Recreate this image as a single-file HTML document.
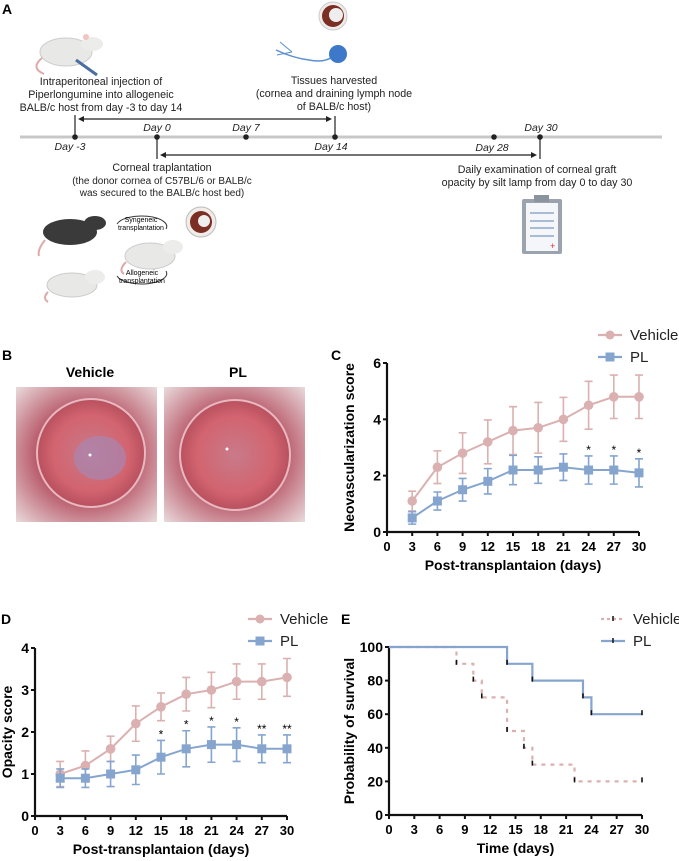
<!DOCTYPE html>
<html><head><meta charset="utf-8"><style>
body{margin:0;background:#fff}
svg{display:block;font-family:"Liberation Sans",Arial,sans-serif}
</style></head><body>
<svg id="fig" width="679" height="861" viewBox="0 0 679 861">
<defs>
<radialGradient id="eyeG" cx="50%" cy="50%" r="50%"><stop offset="0" stop-color="#c97a8a"/><stop offset="0.7" stop-color="#d2646f"/><stop offset="1" stop-color="#b8505e"/></radialGradient>
<radialGradient id="eyeBg" cx="50%" cy="50%" r="70%"><stop offset="0.5" stop-color="#b85868"/><stop offset="1" stop-color="#e8d8da"/></radialGradient>
</defs>
<g>
<text x="2" y="14" font-size="14" font-weight="bold">A</text>
<line x1="20" y1="137" x2="662" y2="137" stroke="#c8c8c8" stroke-width="3"/>
<g fill="#222">
<circle cx="75" cy="137" r="2.8"/><circle cx="157" cy="137" r="2.8"/><circle cx="246" cy="137" r="2.8"/><circle cx="335" cy="137" r="2.8"/><circle cx="494" cy="137" r="2.8"/><circle cx="540" cy="137" r="2.8"/></g>
<g stroke="#222" stroke-width="1.2" fill="none">
<line x1="75" y1="115" x2="75" y2="137"/><line x1="335" y1="116" x2="335" y2="137"/>
<line x1="157" y1="137" x2="157" y2="159"/><line x1="540" y1="137" x2="540" y2="159"/>
<line x1="81" y1="119" x2="330" y2="119"/>
<line x1="162" y1="155" x2="535" y2="155"/>
</g>
<g fill="#222"><path d="M78,119 l6,-3 v6z"/><path d="M332,119 l-6,-3 v6z"/><path d="M160,155 l6,-3 v6z"/><path d="M537,155 l-6,-3 v6z"/></g>
<g font-size="10.5" font-style="italic" fill="#222" text-anchor="middle">
<text x="70" y="150">Day -3</text><text x="157" y="131">Day 0</text><text x="246" y="131">Day 7</text><text x="331" y="150">Day 14</text><text x="492" y="151">Day 28</text><text x="541" y="131">Day 30</text></g>
<g font-size="10.7" fill="#222" text-anchor="middle">
<text x="101" y="85">Intraperitoneal injection of</text>
<text x="101" y="98">Piperlongumine into allogeneic</text>
<text x="101" y="111">BALB/c host from day -3 to day 14</text>
<text x="334" y="84">Tissues harvested</text>
<text x="334" y="97">(cornea and draining lymph node</text>
<text x="334" y="110">of BALB/c host)</text>
<text x="162" y="171">Corneal traplantation</text>
<text x="162" y="184" font-size="10">(the donor cornea of C57BL/6 or BALB/c</text>
<text x="162" y="196" font-size="10">was secured to the BALB/c host bed)</text>
<text x="537" y="173">Daily examination of corneal graft</text>
<text x="537" y="186">opacity by silt lamp from day 0 to day 30</text>
</g>
<g>
<ellipse cx="66" cy="52" rx="26" ry="14" fill="#e8e8e6" stroke="#ccc"/><ellipse cx="92" cy="44" rx="11" ry="7" fill="#ececea"/><circle cx="86" cy="37" r="3" fill="#f2c4c4"/>
<path d="M42,58 q-12,10 2,16" stroke="#e0a8a8" stroke-width="2" fill="none"/>
<line x1="76" y1="60" x2="97" y2="75" stroke="#4a6fa0" stroke-width="3"/></g>
<g><circle cx="333" cy="16" r="14" fill="#f0ece8" stroke="#ccc"/><circle cx="333" cy="16" r="11" fill="#7a2e24"/><circle cx="336" cy="15" r="7" fill="#eee"/></g>
<g><path d="M276,50 q17,8 33,10 q15,3 23,-3" stroke="#5b8fd0" stroke-width="1.5" fill="none"/><path d="M280,42 l12,10 M277,55 l15,-3" stroke="#5b8fd0" fill="none"/><ellipse cx="338" cy="54" rx="9" ry="9" fill="#3e78c8"/></g>
<g><rect x="522" y="199" width="40" height="55" fill="#9aa3ae" rx="2"/><rect x="526" y="203" width="32" height="48" fill="#f4f6fa"/><rect x="534" y="195" width="15" height="7" fill="#8a939e"/>
<g stroke="#a8bcd8" stroke-width="2"><line x1="530" y1="213" x2="554" y2="213"/><line x1="530" y1="221" x2="554" y2="221"/><line x1="530" y1="228" x2="554" y2="228"/><line x1="530" y1="236" x2="554" y2="236"/></g><text x="550" y="249" fill="#d33" font-size="9">+</text></g>
<g>
<ellipse cx="70" cy="232" rx="27" ry="13" fill="#3a3a3a"/><ellipse cx="95" cy="223" rx="11" ry="7" fill="#3a3a3a"/>
<ellipse cx="150" cy="256" rx="25" ry="13" fill="#e8e8e6" stroke="#ccc"/><ellipse cx="173" cy="247" rx="10" ry="7" fill="#ececea"/>
<ellipse cx="72" cy="285" rx="25" ry="12" fill="#e8e8e6" stroke="#ccc"/><ellipse cx="95" cy="277" rx="10" ry="7" fill="#ececea"/>
<path d="M45,240 q-8,10 -6,16 M126,262 q-8,8 -2,12 M48,292 q-6,6 0,10" stroke="#e0a8a8" stroke-width="2" fill="none"/>
<circle cx="201" cy="222" r="15" fill="#f0ece8" stroke="#bbb"/><circle cx="201" cy="222" r="11" fill="#7a2e24"/><circle cx="204" cy="221" r="6" fill="#eee"/>
<path d="M117,224 a24,10 0 1 1 49,5" stroke="#333" fill="none"/><path d="M117,276 a24,10 0 1 0 49,-5" stroke="#333" fill="none"/>
<text x="141" y="222" font-size="7" text-anchor="middle">Syngeneic</text><text x="141" y="230" font-size="7" text-anchor="middle">transplantation</text>
<text x="142" y="275" font-size="7" text-anchor="middle">Allogeneic</text><text x="142" y="283" font-size="7" text-anchor="middle">transplantation</text>
</g>
</g>
<g>
<text x="2" y="360" font-size="14" font-weight="bold">B</text>
<text x="90" y="377" font-size="14" font-weight="bold" text-anchor="middle">Vehicle</text>
<text x="238" y="377" font-size="14" font-weight="bold" text-anchor="middle">PL</text>
<rect x="16" y="387" width="141" height="135" fill="url(#eyeBg)"/>
<circle cx="91" cy="453" r="54" fill="url(#eyeG)" stroke="#e8b8c0" stroke-width="2"/><ellipse cx="100" cy="458" rx="26" ry="22" fill="#a886b0" opacity="0.7"/><circle cx="90" cy="455" r="1.5" fill="#fff"/>
<rect x="164" y="387" width="141" height="135" fill="url(#eyeBg)"/>
<circle cx="235" cy="455" r="55" fill="url(#eyeG)" stroke="#e8b8c0" stroke-width="2"/><circle cx="227" cy="449" r="1.5" fill="#fff"/>
</g>
<g id="pc"></g>
<g id="pd"></g>
<g id="pe"></g>
</svg>
<script>
const NS="http://www.w3.org/2000/svg";
const days=[3,6,9,12,15,18,21,24,27,30];
const xTicks=[0,3,6,9,12,15,18,21,24,27,30];
const cVeh=[1.1,2.3,2.8,3.2,3.6,3.7,4.0,4.5,4.8,4.8];
const cVehErr=[0.35,0.58,0.72,0.78,0.85,0.9,0.78,0.85,0.77,0.77];
const cPL=[0.5,1.1,1.5,1.8,2.2,2.2,2.3,2.2,2.2,2.1];
const cPLErr=[0.22,0.32,0.4,0.45,0.52,0.47,0.47,0.5,0.5,0.5];
const cStars=["","","","","","","","*","*","*"];
const cYTicks=[0,2,4,6];
const dVeh=[1.0,1.2,1.6,2.2,2.6,2.9,3.0,3.2,3.2,3.3];
const dVehErr=[0.3,0.35,0.3,0.42,0.33,0.4,0.42,0.42,0.42,0.45];
const dPL=[0.9,0.9,1.0,1.1,1.4,1.6,1.7,1.7,1.6,1.6];
const dPLErr=[0.22,0.22,0.3,0.35,0.4,0.43,0.42,0.4,0.33,0.33];
const dStars=["","","","","*","*","*","*","**","**"];
const dYTicks=[0,1,2,3,4];
const ePLTimes=[0,14,17,23,24,30];
const ePLVals=[100,90,80,70,60,60];
const eVehTimes=[0,8,10,11,14,16,17,22,30];
const eVehVals=[100,90,80,70,50,40,30,20,20];
const eYTicks=[0,20,40,60,80,100];
const VC="#dbb0b0", PC="#85a5cf";
function el(p,t,a){const e=document.createElementNS(NS,t);for(const k in a)e.setAttribute(k,a[k]);p.appendChild(e);return e;}
function axes(g,x0,x1,y0,y1,ymax,yt,xt,ytitle,xtitle,lbl,lx,ly,tx){
 const X=v=>x0+(x1-x0)*v/30, Y=v=>y0-(y0-y1)*v/ymax;
 const a=el(g,"path",{d:`M${x0},${y1} V${y0} H${x1}`,stroke:"#111","stroke-width":2.2,fill:"none"});
 
 
 yt.forEach(v=>{el(g,"line",{x1:x0-4,x2:x0,y1:Y(v),y2:Y(v),stroke:"#111","stroke-width":2});
  const t=el(g,"text",{x:x0-6,y:Y(v)+5,"font-size":14,"font-weight":"bold","text-anchor":"end"});t.textContent=v;
  
  });
 xt.forEach(v=>{el(g,"line",{x1:X(v),x2:X(v),y1:y0,y2:y0+4,stroke:"#111","stroke-width":2});
  const t=el(g,"text",{x:X(v),y:y0+19,"font-size":13,"font-weight":"bold","text-anchor":"middle"});t.textContent=v;
  
  });
 const yt2=el(g,"text",{x:0,y:0,"font-size":14,"font-weight":"bold","text-anchor":"middle",transform:`translate(${tx},${(y0+y1)/2}) rotate(-90)`});yt2.textContent=ytitle;
 
 
 const xt2=el(g,"text",{x:(x0+x1)/2,y:y0+38,"font-size":14,"font-weight":"bold","text-anchor":"middle"});xt2.textContent=xtitle;
 
 
 const l=el(g,"text",{x:lx,y:ly,"font-size":14,"font-weight":"bold"});l.textContent=lbl;
 
 
 return [X,Y];
}
function legend(g,x,y,dashed,marker){
 [["Vehicle",VC,0],["PL",PC,1]].forEach(([n,c,i])=>{
  const yy=y+i*22;
  const ln=el(g,"line",{x1:x-12,x2:x+12,y1:yy,y2:yy,stroke:c,"stroke-width":2.2,"stroke-dasharray":(dashed&&i==0)?"3,3":"none"});
  
  
  if(marker){ if(i==0) el(g,"circle",{cx:x,cy:yy,r:4.5,fill:c}); else el(g,"rect",{x:x-4.5,y:yy-4.5,width:9,height:9,fill:c}); }
  else el(g,"line",{x1:x,x2:x,y1:yy-3,y2:yy+2,stroke:"#111","stroke-width":1.5});
  const t=el(g,"text",{x:x+20,y:yy+5,"font-size":15,fill:"#222"});t.textContent=n;
  
  });
}
function series(g,X,Y,vals,errs,c,sq,name){
 el(g,"polyline",{points:days.map((d,i)=>X(d)+","+Y(vals[i])).join(" "),fill:"none",stroke:c,"stroke-width":2});
 days.forEach((d,i)=>{
  const e=el(g,"path",{d:`M${X(d)},${Y(vals[i]-errs[i])} V${Y(vals[i]+errs[i])} M${X(d)-4},${Y(vals[i]+errs[i])} h8 M${X(d)-4},${Y(vals[i]-errs[i])} h8`,stroke:c,"stroke-width":1.6,fill:"none"});
  
  
  const m=sq?el(g,"rect",{x:X(d)-4.5,y:Y(vals[i])-4.5,width:9,height:9,fill:c}):el(g,"circle",{cx:X(d),cy:Y(vals[i]),r:4.8,fill:c});
  
  });
}
function stars(g,X,Y,vals,errs,st){
 days.forEach((d,i)=>{if(!st[i])return;const t=el(g,"text",{x:X(d),y:Y(vals[i]+errs[i])-2,"font-size":12,"text-anchor":"middle"});t.textContent=st[i];
  
  });
}
(function(){const g=document.getElementById("pc");
 const [X,Y]=axes(g,387,639,532,363,6,cYTicks,xTicks,"Neovascularization score","Post-transplantaion (days)","C",331,360,354);
 legend(g,610,335,false,true);
 series(g,X,Y,cVeh,cVehErr,VC,false,"vehicle");
 series(g,X,Y,cPL,cPLErr,PC,true,"pl");
 stars(g,X,Y,cPL,cPLErr,cStars);})();
(function(){const g=document.getElementById("pd");
 const [X,Y]=axes(g,35,287,816,648,4,dYTicks,xTicks,"Opacity score","Post-transplantaion (days)","D",1,624,12);
 legend(g,260,619,false,true);
 series(g,X,Y,dVeh,dVehErr,VC,false,"vehicle");
 series(g,X,Y,dPL,dPLErr,PC,true,"pl");
 stars(g,X,Y,dPL,dPLErr,dStars);})();
(function(){const g=document.getElementById("pe");
 const [X,Y]=axes(g,389,642,815,647,100,eYTicks,xTicks,"Probability of survival","Time (days)","E",341,624,354);
 legend(g,613,619,true,false);
 function km(times,vals,c,dash,name){
  let d=`M${X(times[0])},${Y(vals[0])}`;
  for(let i=1;i<times.length;i++){d+=` H${X(times[i])} V${Y(vals[i])}`;}
  const p=el(g,"path",{d:d,fill:"none",stroke:c,"stroke-width":2.2,"stroke-dasharray":dash});
  
  
  for(let i=1;i<times.length;i++){const t=el(g,"line",{x1:X(times[i]),x2:X(times[i]),y1:Y(vals[i])-4,y2:Y(vals[i])+1,stroke:"#111","stroke-width":1.6});
   
   }
 }
 km(eVehTimes,eVehVals,VC,"4,5","vehicle");
 km(ePLTimes,ePLVals,PC,"none","pl");})();
</script>
</body></html>
